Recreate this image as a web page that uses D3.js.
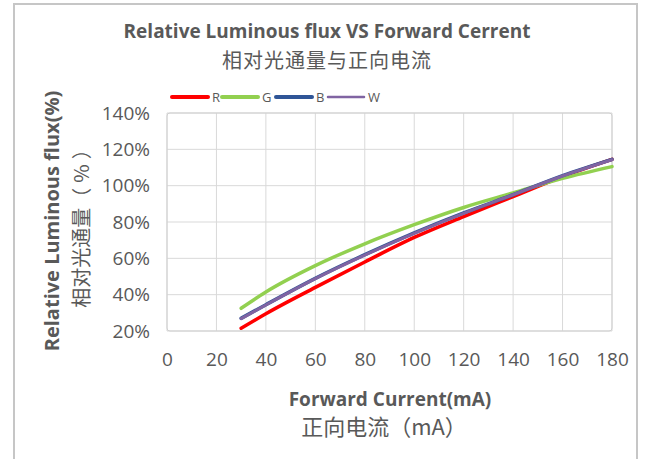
<!DOCTYPE html>
<html>
<head>
<meta charset="utf-8">
<script src="https://cdn.jsdelivr.net/npm/d3@7"></script>
<style>
  body { margin: 0; background: #fff; }
  text { fill: #595959; }
</style>
</head>
<body>
<div id="chart"></div>
<script>
// data
var current = [30, 40, 60, 80, 100, 120, 140, 160, 180];
var fluxR = [21.5, 29.5, 44, 58, 71.5, 83, 94, 105, 114.5];
var fluxG = [32.5, 41.5, 56, 68, 78.5, 88, 96, 104, 110.5];
var fluxB = [27, 34.5, 49, 62, 74, 85, 95, 105.5, 114.5];
var fluxW = [26.8, 34.3, 48.8, 61.8, 73.8, 84.8, 95, 105.3, 114.3];
var xTicks = [0, 20, 40, 60, 80, 100, 120, 140, 160, 180];
var yTicks = [20, 40, 60, 80, 100, 120, 140];

var seriesNames = ['R', 'G', 'B', 'W'];
var seriesColors = ['#ff0000', '#92d050', '#2f5597', '#8064a2'];
var seriesWidths = [3.5, 3.5, 3.5, 3];

var widthCont = 645, heightCont = 459;
var margin = {top: 113, right: 33, bottom: 128, left: 167};
var width = widthCont - margin.left - margin.right,
    height = heightCont - margin.top - margin.bottom;

var latin = '"Open Sans", "Noto Sans", sans-serif',
    cjk = '"Noto Sans CJK SC", sans-serif';

var svg = d3.select('#chart').append('svg')
  .attr('width', widthCont)
  .attr('height', heightCont);

// outer chart frame
svg.append('rect')
  .attr('x', 14).attr('y', 4)
  .attr('width', 623).attr('height', 470)
  .attr('fill', 'none')
  .attr('stroke', '#c6c6c6')
  .attr('stroke-width', 2);

var x = d3.scaleLinear().domain([0, 180]).range([0, width]);
var y = d3.scaleLinear().domain([20, 140]).range([height, 0]);

var g = svg.append('g').attr('transform', 'translate(' + margin.left + ',' + margin.top + ')');

// grid
g.selectAll('.hgrid').data(yTicks).enter().append('line')
  .attr('x1', 0).attr('x2', width)
  .attr('y1', function(d){ return y(d); }).attr('y2', function(d){ return y(d); })
  .attr('stroke', '#d9d9d9').attr('stroke-width', 1);

g.selectAll('.vgrid').data(xTicks).enter().append('line')
  .attr('x1', function(d){ return x(d); }).attr('x2', function(d){ return x(d); })
  .attr('y1', 0).attr('y2', height)
  .attr('stroke', '#d9d9d9').attr('stroke-width', 1);

g.append('rect')
  .attr('width', width).attr('height', height)
  .attr('rx', 3)
  .attr('fill', 'none')
  .attr('stroke', '#d0d0d0').attr('stroke-width', 1);

// axes (labels only)
var xAxis = g.append('g')
  .attr('transform', 'translate(0,' + height + ')')
  .call(d3.axisBottom(x).tickValues(xTicks).tickSize(0).tickPadding(22));
var yAxis = g.append('g')
  .call(d3.axisLeft(y).tickValues(yTicks).tickSize(0).tickPadding(17)
    .tickFormat(function(d){ return d + '%'; }));

[xAxis, yAxis].forEach(function(a){
  a.select('.domain').remove();
  a.selectAll('text')
    .style('font-family', latin)
    .style('font-size', '19px')
    .attr('fill', '#595959');
});

// lines
var allFlux = [fluxR, fluxG, fluxB, fluxW];
var line = d3.line()
  .x(function(d){ return x(d[0]); })
  .y(function(d){ return y(d[1]); })
  .curve(d3.curveMonotoneX);

allFlux.forEach(function(vals, i){
  g.append('path')
    .datum(current.map(function(c, j){ return [c, vals[j]]; }))
    .attr('d', line)
    .attr('fill', 'none')
    .attr('stroke', seriesColors[i])
    .attr('stroke-width', seriesWidths[i])
    .attr('stroke-linecap', 'round');
});

// legend
var legendX = [172, 222, 276, 328];
var legend = svg.append('g');
seriesNames.forEach(function(n, i){
  legend.append('line')
    .attr('x1', legendX[i]).attr('x2', legendX[i] + 36)
    .attr('y1', 97).attr('y2', 97)
    .attr('stroke', seriesColors[i])
    .attr('stroke-width', i === 3 ? 2.5 : 4)
    .attr('stroke-linecap', 'round');
  legend.append('text')
    .attr('x', legendX[i] + 40).attr('y', 102)
    .style('font-family', latin)
    .style('font-size', '13px')
    .text(n);
});

// titles
svg.append('text')
  .attr('x', 327).attr('y', 38)
  .attr('text-anchor', 'middle')
  .style('font-family', latin)
  .style('font-weight', 'bold')
  .style('font-size', '19px')
  .text('Relative Luminous flux VS Forward Cerrent');

svg.append('text')
  .attr('x', 327).attr('y', 68)
  .attr('text-anchor', 'middle')
  .style('font-family', cjk)
  .style('font-size', '20px')
  .style('letter-spacing', '1px')
  .text('相对光通量与正向电流');

svg.append('text')
  .attr('x', 390).attr('y', 406)
  .attr('text-anchor', 'middle')
  .style('font-family', latin)
  .style('font-weight', 'bold')
  .style('font-size', '19px')
  .text('Forward Current(mA)');

svg.append('text')
  .attr('x', 384).attr('y', 435)
  .attr('text-anchor', 'middle')
  .style('font-family', cjk)
  .style('font-size', '22px')
  .text('正向电流（mA）');

svg.append('text')
  .attr('transform', 'translate(59,221) rotate(-90)')
  .attr('text-anchor', 'middle')
  .style('font-family', latin)
  .style('font-weight', 'bold')
  .style('font-size', '20px')
  .text('Relative Luminous flux(%)');

var yCn = svg.append('text')
  .attr('transform', 'translate(89,221) rotate(-90)')
  .attr('text-anchor', 'middle')
  .style('font-family', cjk)
  .style('font-size', '20px');
yCn.append('tspan').text('相对光通量');
yCn.append('tspan').style('letter-spacing', '5px').text('（%）');
</script>
</body>
</html>
